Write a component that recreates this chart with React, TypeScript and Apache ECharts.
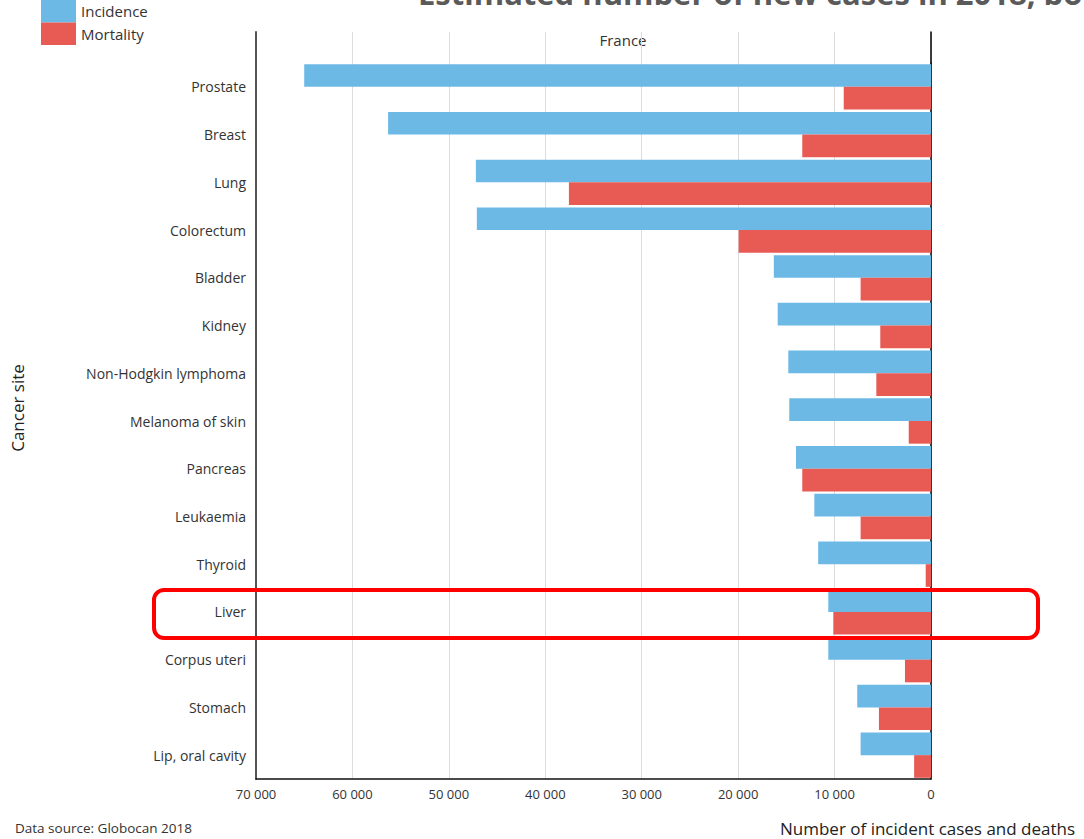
import React, { useEffect, useRef } from "react";
import * as echarts from "echarts";

const categories = [
  "Prostate",
  "Breast",
  "Lung",
  "Colorectum",
  "Bladder",
  "Kidney",
  "Non-Hodgkin lymphoma",
  "Melanoma of skin",
  "Pancreas",
  "Leukaemia",
  "Thyroid",
  "Liver",
  "Corpus uteri",
  "Stomach",
  "Lip, oral cavity",
];
const incidence = [65000, 56300, 47200, 47100, 16300, 15900, 14800, 14700, 14000, 12100, 11700, 10650, 10650, 7650, 7300];
const mortality = [9050, 13350, 37550, 19950, 7300, 5260, 5670, 2310, 13350, 7300, 550, 10130, 2700, 5400, 1750];
const xTicks = [0, 10000, 20000, 30000, 40000, 50000, 60000, 70000];

const FONT = "'Open Sans', 'Noto Sans', sans-serif";
const BLUE = "#6cb9e5";
const RED = "#e85b55";

const fmt = (v: number) =>
  v === 0 ? "0" : String(v).replace(/\B(?=(\d{3})+(?!\d))/g, " ");

export default function App() {
  const ref = useRef<HTMLDivElement>(null);
  useEffect(() => {
    if (!ref.current) return;
    const chart = echarts.init(ref.current, undefined, { renderer: "svg" });
    const xMax = xTicks[xTicks.length - 1];
    const baseX = {
      type: "value",
      min: 0,
      max: xMax,
      interval: 10000,
      inverse: true,
      axisTick: { show: false },
      splitLine: { show: true, lineStyle: { color: "#dcdcdc", width: 1 } },
    };
    chart.setOption({
      animation: false,
      textStyle: { fontFamily: FONT },
      grid: [
        { left: 256, right: 153, top: 63, height: 716 },
        { left: 256, right: 153, top: 32, height: 31 },
      ],
      legend: {
        orient: "vertical",
        left: 41,
        top: 0,
        padding: 0,
        itemWidth: 35,
        itemHeight: 22.5,
        itemGap: 0,
        icon: "rect",
        textStyle: { fontSize: 15, color: "#333", fontFamily: FONT },
        data: ["Incidence", "Mortality"],
      },
      xAxis: [
        {
          ...baseX,
          gridIndex: 0,
          axisLine: { show: true, lineStyle: { color: "#111", width: 1.5 } },
          axisLabel: {
            show: true,
            fontSize: 13,
            color: "#333",
            margin: 8,
            formatter: (v: number) => fmt(v),
          },
        },
        {
          ...baseX,
          gridIndex: 1,
          axisLine: { show: false },
          axisLabel: { show: false },
        },
      ],
      yAxis: [
        {
          type: "category",
          gridIndex: 0,
          data: categories,
          inverse: true,
          position: "left",
          axisLine: { show: true, onZero: false, lineStyle: { color: "#555", width: 2 } },
          axisTick: { show: false },
          axisLabel: { fontSize: 14, color: "#333", margin: 10 },
        },
        {
          type: "category",
          gridIndex: 0,
          data: categories,
          inverse: true,
          position: "right",
          axisLine: { show: true, onZero: false, lineStyle: { color: "#000", width: 1.5 } },
          axisTick: { show: false },
          axisLabel: { show: false },
        },
        {
          type: "category",
          gridIndex: 1,
          data: [""],
          position: "left",
          axisLine: { show: true, onZero: false, lineStyle: { color: "#555", width: 2 } },
          axisTick: { show: false },
          axisLabel: { show: false },
        },
        {
          type: "category",
          gridIndex: 1,
          data: [""],
          position: "right",
          axisLine: { show: true, onZero: false, lineStyle: { color: "#000", width: 1.5 } },
          axisTick: { show: false },
          axisLabel: { show: false },
        },
      ],
      series: [
        {
          name: "Incidence",
          type: "bar",
          xAxisIndex: 0,
          yAxisIndex: 0,
          data: incidence,
          barGap: "0%",
          barCategoryGap: "5%",
          itemStyle: { color: BLUE },
          z: 3,
        },
        {
          name: "Mortality",
          type: "bar",
          xAxisIndex: 0,
          yAxisIndex: 0,
          data: mortality,
          barGap: "0%",
          barCategoryGap: "5%",
          itemStyle: { color: RED },
          z: 3,
        },
      ],
      graphic: [
        {
          type: "text",
          left: 418,
          top: -23,
          style: {
            text: "Estimated number of new cases in 2018, both sexes, all ages",
            fontSize: 31,
            fontWeight: "bold",
            fontFamily: FONT,
            fill: "#5a5a5a",
          },
        },
        {
          type: "text",
          x: 623,
          y: 40,
          style: {
            text: "France",
            fontSize: 15,
            fontFamily: FONT,
            fill: "#333",
            align: "center",
            verticalAlign: "middle",
          },
        },
        {
          type: "text",
          x: 17,
          y: 408,
          rotation: Math.PI / 2,
          style: {
            text: "Cancer site",
            fontSize: 17,
            fontFamily: FONT,
            fill: "#222",
            align: "center",
            verticalAlign: "middle",
          },
        },
        {
          type: "text",
          x: 15,
          y: 828,
          style: {
            text: "Data source: Globocan 2018",
            fontSize: 13.5,
            fontFamily: FONT,
            fill: "#333",
            verticalAlign: "middle",
          },
        },
        {
          type: "text",
          x: 780,
          y: 828,
          style: {
            text: "Number of incident cases and deaths",
            fontSize: 17,
            fontFamily: FONT,
            fill: "#222",
            verticalAlign: "middle",
          },
        },
        {
          type: "rect",
          shape: { x: 154, y: 590, width: 884, height: 48, r: 10 },
          style: { fill: "none", stroke: "#ff0000", lineWidth: 4 },
          z: 100,
        },
      ],
    });
    return () => chart.dispose();
  }, []);
  return <div ref={ref} style={{ width: 1084, height: 839, position: "absolute", left: 0, top: 0 }} />;
}
